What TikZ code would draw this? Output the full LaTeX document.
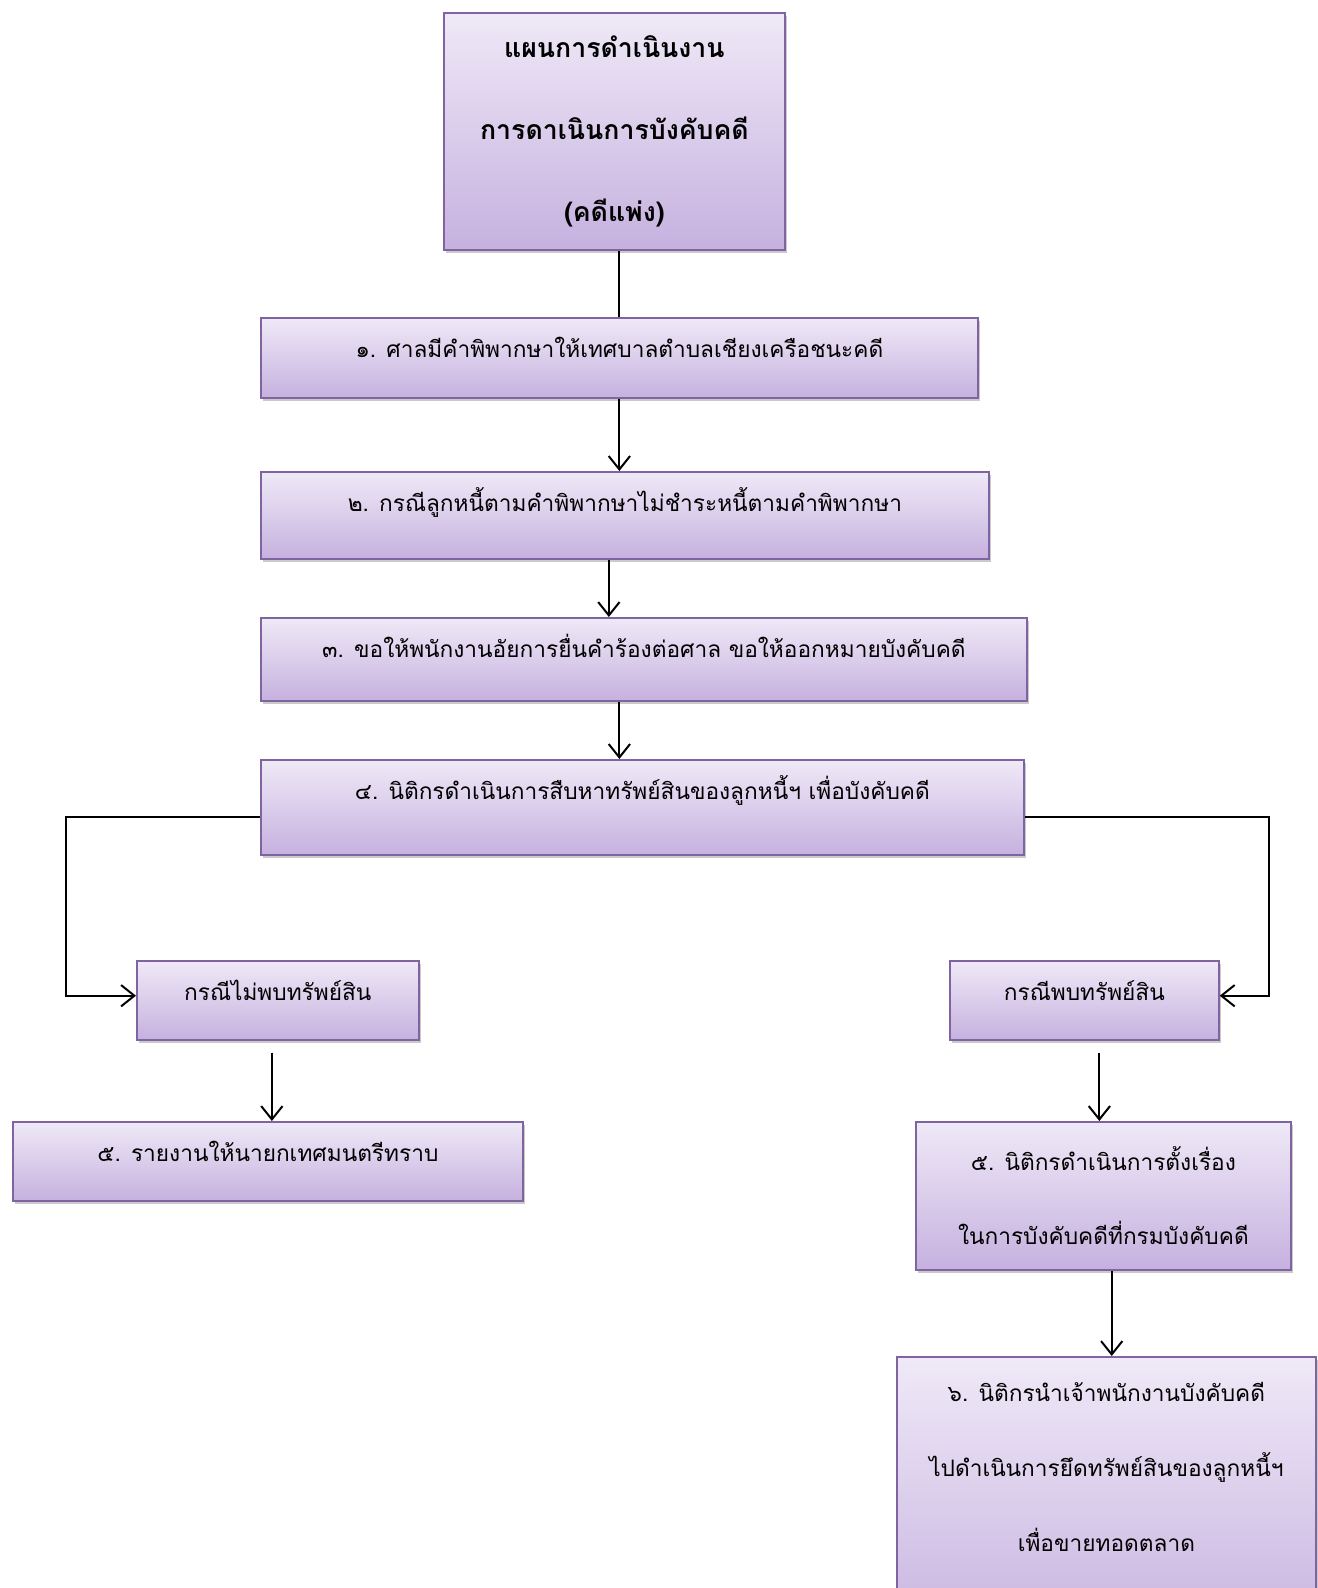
\documentclass[tikz,border=0pt]{standalone}
\usepackage{fontspec}
\usepackage{xcolor}
\usepackage{tikz}
\usetikzlibrary{calc}
\usetikzlibrary{arrows.meta}
\usetikzlibrary{shadows}
\newfontfamily\thai[Script=Thai]{Loma}
\definecolor{boxline}{HTML}{8064A2}
\definecolor{boxtop}{HTML}{EFE9F7}
\definecolor{boxbottom}{HTML}{C6B1DF}
\tikzset{>={Straight Barb[length=10pt,width=16pt]}}
\tikzstyle{stepbox} = [draw=boxline, line width=1.3pt, top color=boxtop, bottom color=boxbottom, inner xsep=0pt, inner ysep=0pt, anchor=north west, align=center, font=\thai\fontsize{17}{56}\selectfont, drop shadow={shadow xshift=1.5pt, shadow yshift=-2.5pt, opacity=.35, fill=black!60}]
\tikzstyle{oneline} = [text height=30pt]
\tikzstyle{flow} = [->, line width=1.5pt]

\begin{document}
\begin{tikzpicture}[x=0.75pt, y=-0.75pt]
\useasboundingbox (0,0) rectangle (1317,1588);
% main column
\node [stepbox, minimum width=255.75pt, minimum height=177.75pt, font=\thai\bfseries\fontsize{20}{61.5}\selectfont] (plan) at (443,12) {แผนการดำเนินงาน\\การดาเนินการบังคับคดี\\(คดีแพ่ง)};
\node [stepbox, oneline, text depth=30pt, minimum width=537.75pt] (verdict) at (260,317) {๑. ศาลมีคำพิพากษาให้เทศบาลตำบลเชียงเครือชนะคดี};
\node [stepbox, oneline, text depth=35.25pt, minimum width=546pt] (unpaid) at (260,471) {๒. กรณีลูกหนี้ตามคำพิพากษาไม่ชำระหนี้ตามคำพิพากษา};
\node [stepbox, oneline, text depth=32.25pt, minimum width=574.5pt] (petition) at (260,617) {๓. ขอให้พนักงานอัยการยื่นคำร้องต่อศาล ขอให้ออกหมายบังคับคดี};
\node [stepbox, oneline, text depth=41.25pt, minimum width=572.25pt] (search) at (260,759) {๔. นิติกรดำเนินการสืบหาทรัพย์สินของลูกหนี้ฯ เพื่อบังคับคดี};
% left branch
\node [stepbox, oneline, text depth=29.25pt, minimum width=211.5pt] (nofound) at (136,960) {กรณีไม่พบทรัพย์สิน};
\node [stepbox, oneline, text depth=29.25pt, minimum width=382.5pt] (report) at (12,1121) {๕. รายงานให้นายกเทศมนตรีทราบ};
% right branch
\node [stepbox, oneline, text depth=29.25pt, minimum width=201.75pt] (found) at (949,960) {กรณีพบทรัพย์สิน};
\node [stepbox, minimum width=281.25pt, minimum height=111pt, font=\thai\fontsize{17}{55.5}\selectfont] (filecase) at (915,1121) {๕. นิติกรดำเนินการตั้งเรื่อง\\ในการบังคับคดีที่กรมบังคับคดี};
\node [stepbox, minimum width=314.25pt, minimum height=221pt, font=\thai\fontsize{17}{56.25}\selectfont] (seize) at (896,1356) {๖. นิติกรนำเจ้าพนักงานบังคับคดี\\ไปดำเนินการยึดทรัพย์สินของลูกหนี้ฯ\\เพื่อขายทอดตลาด\\\mbox{}};

\draw [line width=1.5pt] (verdict.north |- plan.south) to (verdict.north);
\draw [flow] (verdict.south) to (verdict.south |- unpaid.north);
\draw [flow] ([xshift=-12pt]unpaid.south) to ([xshift=-12pt]unpaid.south |- petition.north);
\draw [flow] (petition.south -| verdict.south) to (search.north -| verdict.south);
\draw [flow] ([yshift=-7.5pt]search.west) -- ++(-194,0) |- ([yshift=3.5pt]nofound.west);
\draw [flow] ([yshift=-7.5pt]search.east) -- ++(244,0) |- ([yshift=3.5pt]found.east);
\draw [flow] ([xshift=3pt, yshift=-9pt]report.north |- nofound.south) to ([xshift=3pt]report.north);
\draw [flow] ([xshift=-3pt, yshift=-9pt]filecase.north |- found.south) to ([xshift=-3pt]filecase.north);
\draw [flow] ([xshift=4pt]seize.north |- filecase.south) to ([xshift=4pt]seize.north);
\end{tikzpicture}
\end{document}
